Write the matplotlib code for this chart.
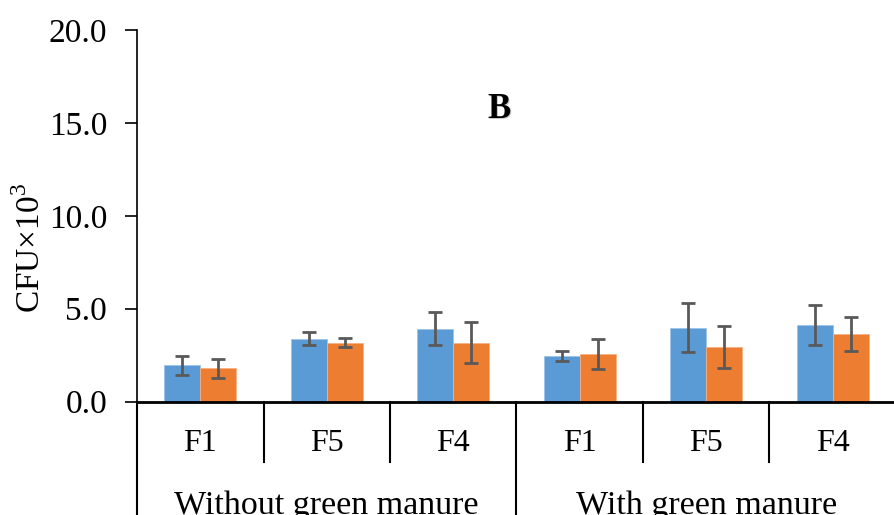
import matplotlib.pyplot as plt
import matplotlib.transforms as mtransforms
import numpy as np

plt.rcParams['font.family'] = ['Liberation Serif', 'DejaVu Serif']
plt.rcParams['mathtext.fontset'] = 'custom'
plt.rcParams['mathtext.rm'] = 'Liberation Serif'

treatments = ['F1', 'F5', 'F4', 'F1', 'F5', 'F4']
groups = ['Without green manure', 'With green manure']
blue_vals = [1.95, 3.38, 3.92, 2.45, 3.98, 4.12]
blue_err = [0.50, 0.34, 0.88, 0.27, 1.32, 1.10]
orange_vals = [1.79, 3.17, 3.17, 2.56, 2.94, 3.64]
orange_err = [0.52, 0.23, 1.10, 0.83, 1.14, 0.92]

fig = plt.figure(figsize=(8.95, 5.15), dpi=100)
ax = fig.add_axes([137 / 895, (515 - 401.5) / 515, 759 / 895, 371.5 / 515])

x = np.arange(len(treatments)) + 0.5
w = 0.285
err_kw = dict(ecolor='#595959', elinewidth=2, capsize=5, capthick=2)
ax.bar(x - w / 2, blue_vals, w, yerr=blue_err, color='#5B9BD5',
       edgecolor='#9DC3E6', linewidth=0.6, error_kw=err_kw)
ax.bar(x + w / 2, orange_vals, w, yerr=orange_err, color='#ED7D31',
       edgecolor='#F4B183', linewidth=0.6, error_kw=err_kw)

ax.set_xlim(0, len(treatments))
ax.set_ylim(0, 20)
ax.set_yticks([0, 5, 10, 15, 20])
ax.set_yticklabels([f'{v:.1f}' for v in [0, 5, 10, 15, 20]], fontsize=24)
ax.tick_params(axis='y', direction='out', length=9, width=1.2, pad=12.5)
ax.set_xticks([])
ax.spines['top'].set_visible(False)
ax.spines['right'].set_visible(False)
ax.spines['left'].set_linewidth(1.2)
ax.spines['bottom'].set_linewidth(2)
ax.set_ylabel(r'CFU×10$^{\mathrm{3}}$', fontsize=24)
ax.yaxis.set_label_coords(-0.118, 0.413)

# category axis: separators and labels
trans = mtransforms.blended_transform_factory(ax.transData, ax.transAxes)
for i in range(len(treatments) + 1):
    low = -0.31 if i % 3 == 0 else -0.163
    ax.plot([i, i], [0, low], transform=trans, color='black', lw=1.5,
            clip_on=False)
for xi, t in zip(x, treatments):
    ax.text(xi, -0.112, t, transform=trans, ha='center', va='center',
            fontsize=23)
for gi, g in enumerate(groups):
    ax.text(gi * 3 + 1.5, -0.281, g, transform=trans, ha='center',
            va='center', fontsize=24.5)

# panel letter with a faint shadow
fig.text(500.5 / 895, 1 - 110.5 / 515, 'B', fontsize=25, fontweight='bold',
         ha='center', va='center', color='#c8c8c8')
fig.text(499 / 895, 1 - 109 / 515, 'B', fontsize=25, fontweight='bold',
         ha='center', va='center')

fig.savefig('out.png', dpi=100)
